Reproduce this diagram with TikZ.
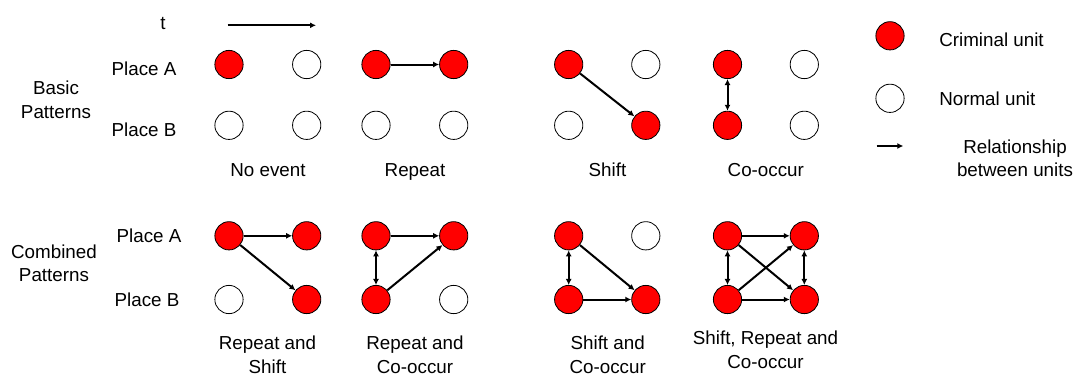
\documentclass[tikz,border=0pt]{standalone}
\usepackage{fontspec}
\setmainfont{Liberation Sans}
\usetikzlibrary{arrows.meta}

\begin{document}
\begin{tikzpicture}[x=0.75pt, y=-0.75pt,
		crim/.style={circle, draw=black, fill=red, line width=0.6pt, minimum size=21.2pt, inner sep=0pt},
		norm/.style={circle, draw=black, fill=white, line width=0.6pt, minimum size=21.2pt, inner sep=0pt},
		rel/.style={line width=1.5pt, -{Latex[length=4.5pt,width=4.5pt]}},
		corel/.style={line width=1.5pt, {Latex[length=4.5pt,width=4.5pt]}-{Latex[length=4.5pt,width=4.5pt]}},
		txt/.style={font=\fontsize{14.1}{17.5}\selectfont, inner sep=0pt, align=center, anchor=base}]
		\useasboundingbox (0,0) rectangle (1092,376);
		
		% Time axis
		\node[txt] (t) at (163,29.3) {t};
		\coordinate (t0) at (227.7,25.3);
		\coordinate (t1) at (316,25.3);
		\draw[rel] (t0) -- (t1);
		
		% Row labels (two-line nodes sit on their last line)
		\node[txt] (basic) at (56,118.3) {Basic\\Patterns};
		\node[txt] (bpA) at (144,75) {Place A};
		\node[txt] (bpB) at (144,136) {Place B};
		\node[txt] (comb) at (54,281.7) {Combined\\Patterns};
		\node[txt] (cpA) at (149,242.7) {Place A};
		\node[txt] (cpB) at (147,306.7) {Place B};
		
		% Basic patterns: no event
		\node[crim] (b1A) at (229,64.5) {};
		\node[norm] (b2A) at (306.7,64.5) {};
		\node[norm] (b1B) at (229,125.3) {};
		\node[norm] (b2B) at (306.7,125.3) {};
		% repeat
		\node[crim] (b3A) at (376,64.5) {};
		\node[crim] (b4A) at (453.7,64.5) {};
		\node[norm] (b3B) at (376,125.3) {};
		\node[norm] (b4B) at (453.7,125.3) {};
		% shift
		\node[crim] (b5A) at (568.7,64.5) {};
		\node[norm] (b6A) at (645.8,64.5) {};
		\node[norm] (b5B) at (568.7,125.3) {};
		\node[crim] (b6B) at (645.8,125.3) {};
		% co-occur
		\node[crim] (b7A) at (727.5,64.5) {};
		\node[norm] (b8A) at (804.3,64.5) {};
		\node[crim] (b7B) at (727.5,125.3) {};
		\node[norm] (b8B) at (804.3,125.3) {};
		
		\draw[rel] (b3A) -- (b4A);
		\draw[rel] (b5A) -- (b6B);
		\draw[corel] (b7A) -- (b7B);
		
		\node[txt] (noev) at (268,176.7) {No event};
		\node[txt] (rep) at (415,176.7) {Repeat};
		\node[txt] (shi) at (607.5,176.7) {Shift};
		\node[txt] (coo) at (765.8,176.7) {Co-occur};
		
		% Combined patterns: repeat and shift
		\node[crim] (c1A) at (229,235.8) {};
		\node[crim] (c2A) at (306.7,235.8) {};
		\node[norm] (c1B) at (229,299.5) {};
		\node[crim] (c2B) at (306.7,299.5) {};
		% repeat and co-occur
		\node[crim] (c3A) at (376,235.8) {};
		\node[crim] (c4A) at (453.7,235.8) {};
		\node[crim] (c3B) at (376,299.5) {};
		\node[norm] (c4B) at (453.7,299.5) {};
		% shift and co-occur
		\node[crim] (c5A) at (568.7,235.8) {};
		\node[norm] (c6A) at (645.8,235.8) {};
		\node[crim] (c5B) at (568.7,299.5) {};
		\node[crim] (c6B) at (645.8,299.5) {};
		% shift, repeat and co-occur
		\node[crim] (c7A) at (727.5,235.8) {};
		\node[crim] (c8A) at (804.3,235.8) {};
		\node[crim] (c7B) at (727.5,299.5) {};
		\node[crim] (c8B) at (804.3,299.5) {};
		
		\draw[rel] (c1A) -- (c2A);
		\draw[rel] (c1A) -- (c2B);
		\draw[rel] (c3A) -- (c4A);
		\draw[corel] (c3A) -- (c3B);
		\draw[rel] (c3B) -- (c4A);
		\draw[corel] (c5A) -- (c5B);
		\draw[rel] (c5A) -- (c6B);
		\draw[rel] (c5B) -- (c6B);
		\draw[rel] (c7A) -- (c8A);
		\draw[rel] (c7B) -- (c8B);
		\draw[corel] (c7A) -- (c7B);
		\draw[corel] (c8A) -- (c8B);
		\draw[rel] (c7A) -- (c8B);
		\draw[rel] (c7B) -- (c8A);
		
		\node[txt] (repshi) at (267.5,373.3) {Repeat and\\Shift};
		\node[txt] (repcoo) at (415,373.3) {Repeat and\\Co-occur};
		\node[txt] (shicoo) at (607.7,373.3) {Shift and\\Co-occur};
		\node[txt] (all) at (765.5,368.3) {Shift, Repeat and\\Co-occur};
		
		% Legend
		\node[crim] (lcrim) at (890,35.8) {};
		\node[norm] (lnorm) at (890,98.3) {};
		\coordinate (lr0) at (876.7,146);
		\coordinate (lr1) at (903.3,146);
		\draw[rel] (lr0) -- (lr1);
		\node[txt, anchor=base west] (lcrimt) at (939,46.7) {Criminal unit};
		\node[txt, anchor=base west] (lnormt) at (939,105) {Normal unit};
		\node[txt] (lrelt) at (1015,176.7) {Relationship\\between units};
	\end{tikzpicture}
\end{document}
